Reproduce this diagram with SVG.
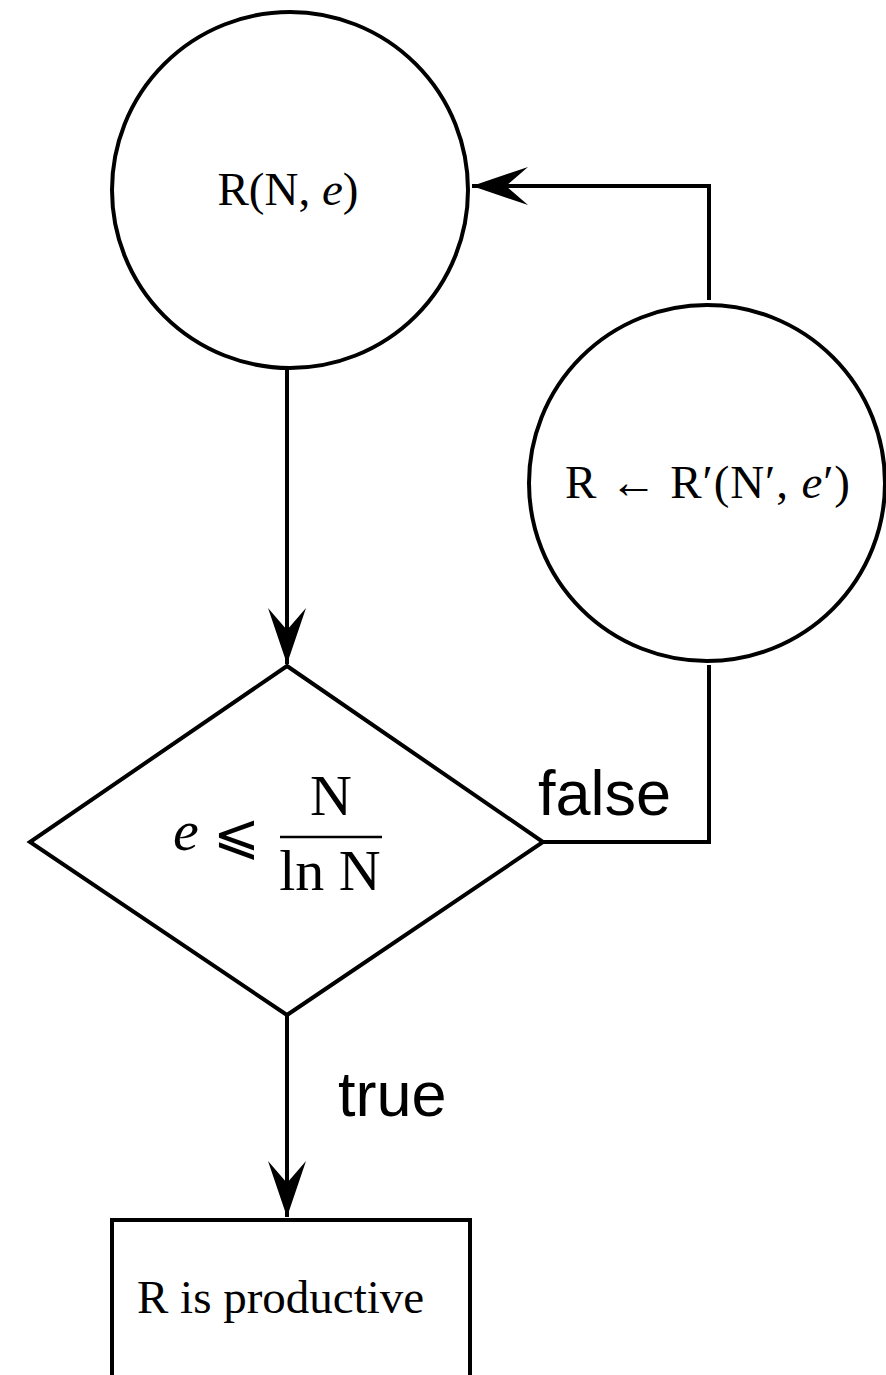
<svg xmlns="http://www.w3.org/2000/svg" width="886" height="1375" viewBox="0 0 886 1375">
<style>
.shape{fill:#fff;stroke:#000;stroke-width:4}
.edge{fill:none;stroke:#000;stroke-width:4}
.math{font-family:"Liberation Serif","DejaVu Serif",serif;fill:#000}
.lbl{font-family:"Liberation Sans",Arial,sans-serif;font-size:63px;fill:#000}
</style>
<defs>
<marker id="arr" markerUnits="userSpaceOnUse" viewBox="-58 -22 60 44" refX="0" refY="0" markerWidth="60" markerHeight="44" orient="auto">
<path d="M0,0 L-56,-19 L-34,0 L-56,19 Z" fill="#000"/>
</marker>
</defs>
<g id="connectors">
<path class="edge" d="M287,368 L287,664" marker-end="url(#arr)"/>
<path class="edge" d="M709,300 L709,186 L472,186" marker-end="url(#arr)"/>
<path class="edge" d="M543,842 L709,842 L709,665"/>
<path class="edge" d="M287,1015 L287,1217" marker-end="url(#arr)"/>
</g>
<g id="node-start">
<circle class="shape" cx="290" cy="190" r="178"/>
<text class="math" x="288" y="205" font-size="47" text-anchor="middle">R(N, <tspan font-style="italic">e</tspan>)</text>
</g>
<g id="node-update">
<circle class="shape" cx="707" cy="483" r="178"/>
<text class="math" x="565" y="498" font-size="47" textLength="285" lengthAdjust="spacing">R ← R′(N′, <tspan font-style="italic">e</tspan>′)</text>
</g>
<g id="node-decision">
<polygon class="shape" points="287,666 543,842 287,1015 30,842"/>
<text class="math" x="173" y="850" font-size="58" font-style="italic">e</text>
<text class="math" x="213" y="853" font-size="56">⩽</text>
<text class="math" x="331" y="815" font-size="58" text-anchor="middle">N</text>
<line x1="280" y1="837" x2="382" y2="837" stroke="#000" stroke-width="2.5"/>
<text class="math" x="330" y="890" font-size="58" text-anchor="middle">ln N</text>
</g>
<g id="node-result">
<rect class="shape" x="112" y="1220" width="358" height="200"/>
<text class="math" x="137" y="1313" font-size="47">R is productive</text>
</g>
<g id="labels">
<text class="lbl" x="538" y="815">false</text>
<text class="lbl" x="338" y="1116">true</text>
</g>
</svg>
